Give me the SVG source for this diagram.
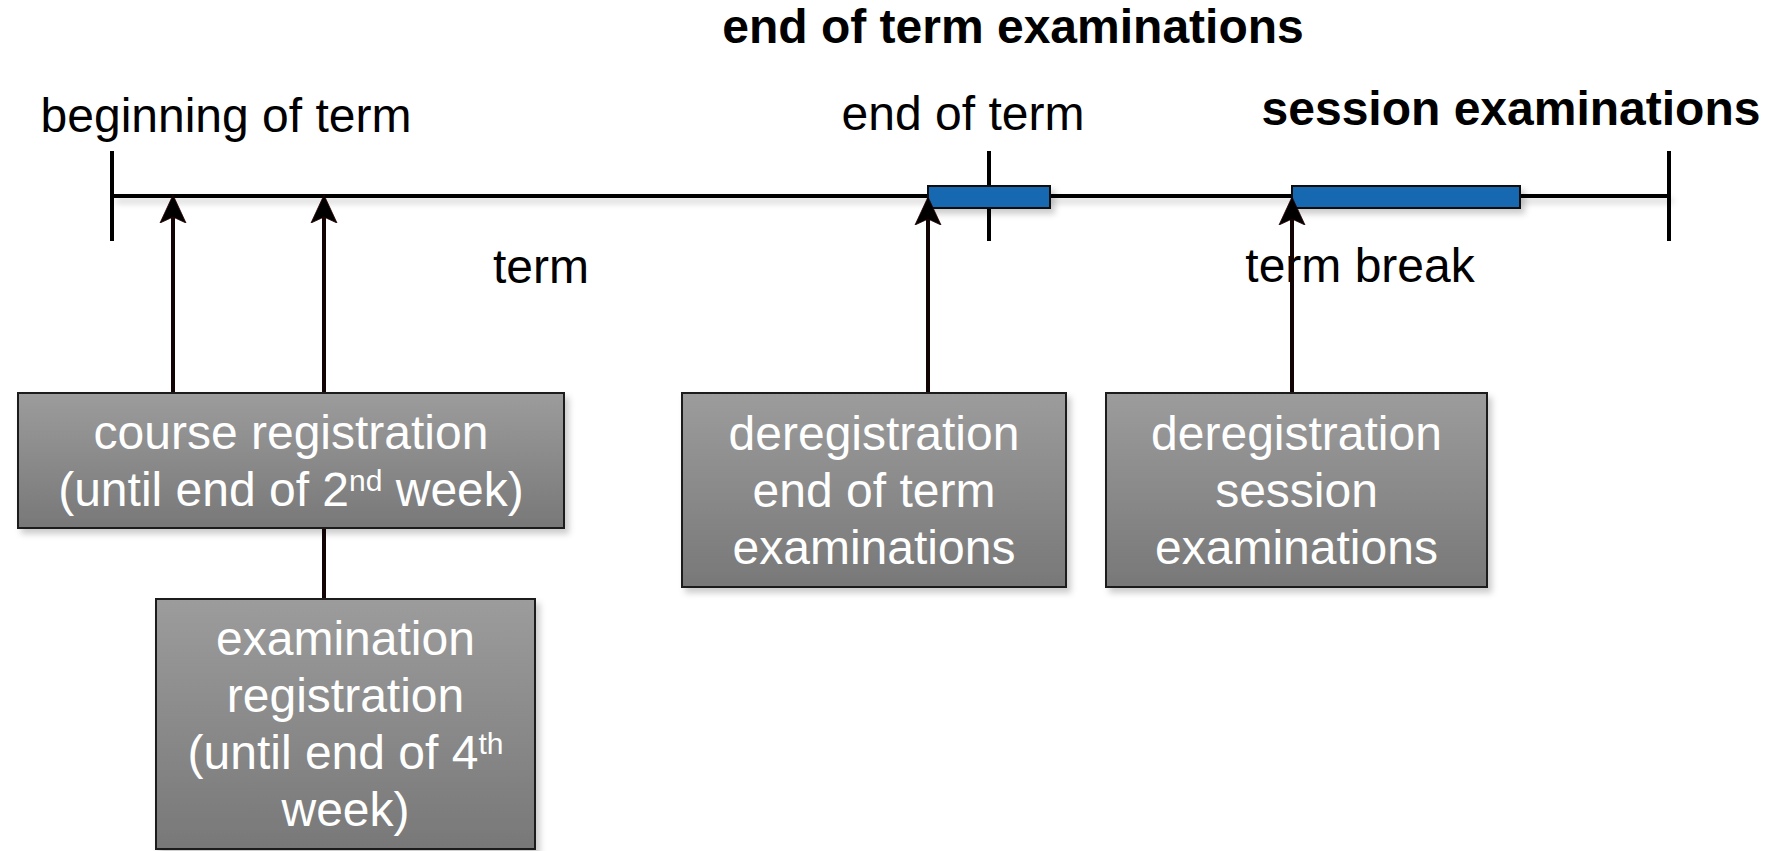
<svg xmlns="http://www.w3.org/2000/svg" width="1771" height="851" viewBox="0 0 1771 851">
<style>
.lbl{font-family:"Liberation Sans",Arial,sans-serif;font-size:48px;fill:#000;text-anchor:middle}
.bold{font-weight:bold}
.box{fill:url(#gbox);stroke:#1a1a1a;stroke-width:2;filter:url(#sh)}
.btxt{font-family:"Liberation Sans",Arial,sans-serif;font-size:48px;fill:#fff;text-anchor:middle}
.sup{font-size:30px}
.bar{fill:#1467b0;stroke:#111;stroke-width:2;filter:url(#sh)}
.tick{stroke:#000;stroke-width:4;fill:none}
.arr{stroke:#120404;stroke-width:4;fill:none}
</style>
<defs>
<linearGradient id="gbox" x1="0" y1="0" x2="0" y2="1">
<stop offset="0" stop-color="#9c9c9c"/>
<stop offset="1" stop-color="#787878"/>
</linearGradient>
<filter id="sh" filterUnits="userSpaceOnUse" x="0" y="0" width="1771" height="851">
<feDropShadow dx="4" dy="5" stdDeviation="3" flood-color="#000" flood-opacity="0.2"/>
</filter>
<marker id="ah" viewBox="0 -15 30 30" refX="18" refY="0" markerWidth="30" markerHeight="30" markerUnits="userSpaceOnUse" orient="auto">
<path d="M0,-13 L28,0 L0,13 L6,0 Z" fill="#000" stroke="#2a0000" stroke-width="0.8"/>
</marker>
</defs>

<g id="timeline">
<line x1="112" y1="196" x2="1669" y2="196" class="tick" filter="url(#sh)"/>
<line x1="112" y1="151" x2="112" y2="241" class="tick"/>
<line x1="989" y1="151" x2="989" y2="241" class="tick"/>
<line x1="1669" y1="151" x2="1669" y2="241" class="tick"/>
</g>

<g id="bar-end-of-term-exams">
<rect x="928" y="186" width="122" height="22" class="bar"/>
</g>
<g id="bar-session-exams">
<rect x="1292" y="186" width="228" height="22" class="bar"/>
</g>

<g id="labels">
<text x="1013" y="43" class="lbl bold">end of term examinations</text>
<text x="226" y="132" class="lbl">beginning of term</text>
<text x="963" y="130" class="lbl">end of term</text>
<text x="1511" y="125" class="lbl bold">session examinations</text>
<text x="541" y="283" class="lbl">term</text>
<text x="1360" y="282" class="lbl">term break</text>
</g>

<g id="connectors">
<line x1="173" y1="393" x2="173" y2="205" class="arr" marker-end="url(#ah)"/>
<line x1="324" y1="393" x2="324" y2="205" class="arr" marker-end="url(#ah)"/>
<line x1="928" y1="393" x2="928" y2="207" class="arr" marker-end="url(#ah)"/>
<line x1="1292" y1="393" x2="1292" y2="207" class="arr" marker-end="url(#ah)"/>
<line x1="324" y1="528" x2="324" y2="599" class="arr"/>
</g>

<g id="course-registration">
<rect x="18" y="393" width="546" height="135" class="box"/>
<text x="291" y="449" class="btxt">course registration</text>
<text x="291" y="506" class="btxt">(until end of 2<tspan class="sup" dy="-15">nd</tspan><tspan dy="15"> week)</tspan></text>
</g>

<g id="examination-registration">
<rect x="156" y="599" width="379" height="250" class="box"/>
<text x="345.5" y="655" class="btxt">examination</text>
<text x="345.5" y="712" class="btxt">registration</text>
<text x="345.5" y="769" class="btxt">(until end of 4<tspan class="sup" dy="-15">th</tspan></text>
<text x="345.5" y="826" class="btxt">week)</text>
</g>

<g id="deregistration-end-of-term">
<rect x="682" y="393" width="384" height="194" class="box"/>
<text x="874" y="450" class="btxt">deregistration</text>
<text x="874" y="507" class="btxt">end of term</text>
<text x="874" y="564" class="btxt">examinations</text>
</g>

<g id="deregistration-session">
<rect x="1106" y="393" width="381" height="194" class="box"/>
<text x="1296.5" y="450" class="btxt">deregistration</text>
<text x="1296.5" y="507" class="btxt">session</text>
<text x="1296.5" y="564" class="btxt">examinations</text>
</g>
</svg>
